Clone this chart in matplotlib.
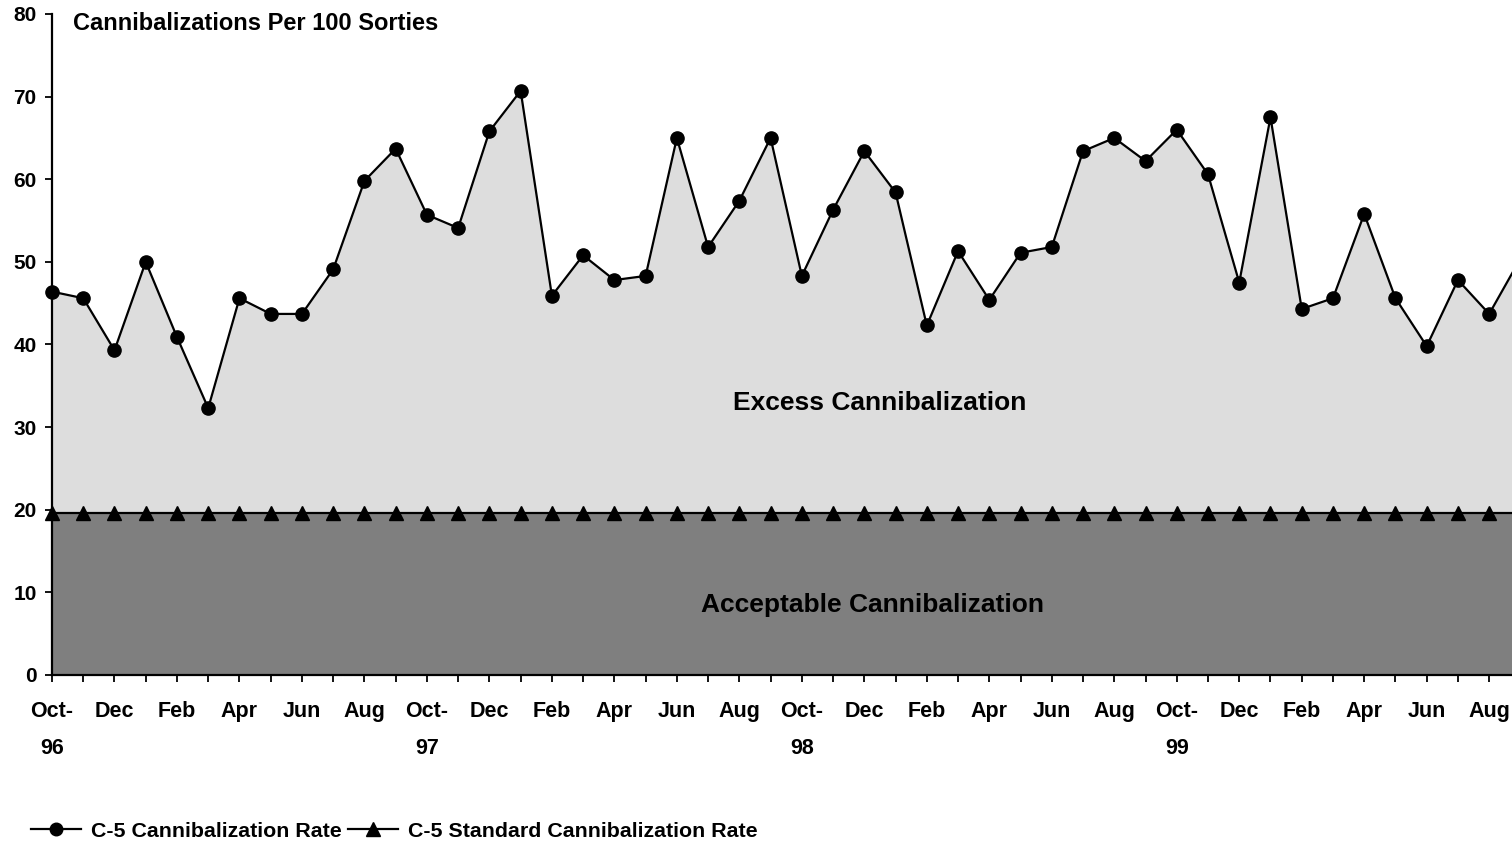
import matplotlib
matplotlib.use("Agg")
import matplotlib.pyplot as plt
import numpy as np

plt.rcParams['font.family'] = ['Liberation Sans', 'DejaVu Sans']
plt.rcParams['font.weight'] = 'bold'

# monthly observations, Oct-96 .. Sep-00
months = [
    'Oct-96', 'Nov-96', 'Dec-96', 'Jan-97', 'Feb-97', 'Mar-97', 'Apr-97', 'May-97',
    'Jun-97', 'Jul-97', 'Aug-97', 'Sep-97', 'Oct-97', 'Nov-97', 'Dec-97', 'Jan-98',
    'Feb-98', 'Mar-98', 'Apr-98', 'May-98', 'Jun-98', 'Jul-98', 'Aug-98', 'Sep-98',
    'Oct-98', 'Nov-98', 'Dec-98', 'Jan-99', 'Feb-99', 'Mar-99', 'Apr-99', 'May-99',
    'Jun-99', 'Jul-99', 'Aug-99', 'Sep-99', 'Oct-99', 'Nov-99', 'Dec-99', 'Jan-00',
    'Feb-00', 'Mar-00', 'Apr-00', 'May-00', 'Jun-00', 'Jul-00', 'Aug-00', 'Sep-00',
]
cann_rate = [
    46.4, 45.6, 39.3, 50.0, 40.9, 32.3, 45.6, 43.7,
    43.7, 49.1, 59.8, 63.7, 55.7, 54.1, 65.8, 70.7,
    45.9, 50.8, 47.8, 48.3, 65.0, 51.8, 57.4, 65.0,
    48.3, 56.3, 63.4, 58.4, 42.3, 51.3, 45.4, 51.1,
    51.8, 63.4, 65.0, 62.2, 66.0, 60.6, 47.5, 67.5,
    44.3, 45.6, 55.8, 45.6, 39.8, 47.8, 43.7, 50.4,
]
std_rate = [19.6] * 48

x = np.arange(len(months))
tick_labels = []
for i, m in enumerate(months):
    if i % 2:
        tick_labels.append('')
    elif m.startswith('Oct'):
        tick_labels.append('Oct-\n' + m[-2:])
    else:
        tick_labels.append(m[:3])

fig = plt.figure(figsize=(15.12, 8.43), dpi=100)
ax = fig.add_axes([52 / 1512, 1 - 675 / 843, 1 - 52 / 1512, (675 - 14) / 843])

# shaded bands
ax.fill_between(x, std_rate, cann_rate, color='#dddddd', lw=0)
ax.fill_between(x, 0, std_rate, color='#7f7f7f', lw=0)

ax.plot(x, cann_rate, color='black', lw=1.6, marker='o', ms=9.5,
        label='C-5 Cannibalization Rate', clip_on=False, zorder=4)
ax.plot(x, std_rate, color='black', lw=1.6, marker='^', ms=10.5,
        label='C-5 Standard Cannibalization Rate', clip_on=False, zorder=3)

ax.set_xlim(0, 46.73)
ax.set_ylim(0, 80)
ax.set_yticks(range(0, 81, 10))
ax.set_xticks(x[:47])
ax.set_xticklabels(tick_labels[:47], linespacing=2.0)

for s in ['top', 'right']:
    ax.spines[s].set_visible(False)
for s in ['left', 'bottom']:
    ax.spines[s].set_linewidth(1.6)
ax.tick_params(axis='y', length=5, width=1.3, pad=6, labelsize=15)
ax.tick_params(axis='x', length=5, width=1.3, pad=14, labelsize=15.5)
for lab in ax.get_xticklabels() + ax.get_yticklabels():
    lab.set_fontweight('bold')

ax.text(0.68, 78.9, 'Cannibalizations Per 100 Sorties', fontsize=17,
        fontweight='bold', ha='left', va='center')
ax.text(26.5, 32.9, 'Excess Cannibalization', fontsize=19,
        fontweight='bold', ha='center', va='center')
ax.text(26.25, 8.5, 'Acceptable Cannibalization', fontsize=19,
        fontweight='bold', ha='center', va='center')

fig.legend(loc='lower left', bbox_to_anchor=(0.008, -0.02), ncol=2, frameon=False,
           prop={'weight': 'bold', 'size': 15.4}, handlelength=2.3,
           handletextpad=0.5, columnspacing=0.3, markerscale=0.95)

fig.savefig('out.png', dpi=100)
